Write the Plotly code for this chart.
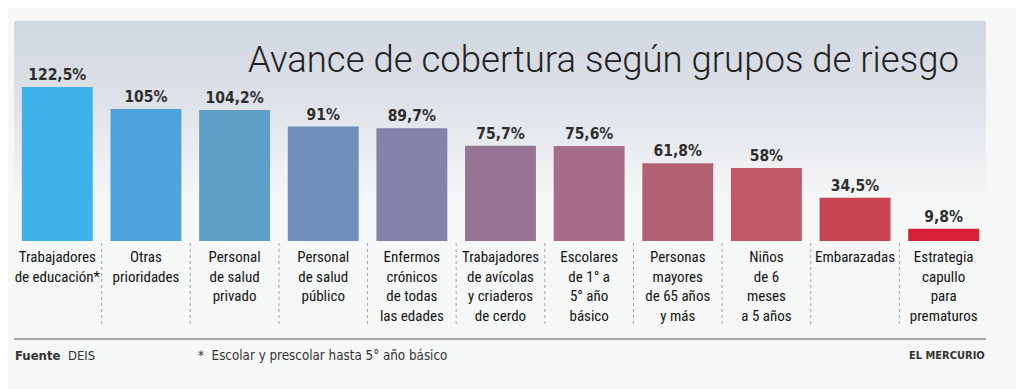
import plotly.graph_objects as go

categories = [
    "Trabajadores<br>de educación*",
    "Otras<br>prioridades",
    "Personal<br>de salud<br>privado",
    "Personal<br>de salud<br>público",
    "Enfermos<br>crónicos<br>de todas<br>las edades",
    "Trabajadores<br>de avícolas<br>y criaderos<br>de cerdo",
    "Escolares<br>de 1° a<br>5° año<br>básico",
    "Personas<br>mayores<br>de 65 años<br>y más",
    "Niños<br>de 6<br>meses<br>a 5 años",
    "Embarazadas",
    "Estrategia<br>capullo<br>para<br>prematuros",
]
values = [122.5, 105, 104.2, 91, 89.7, 75.7, 75.6, 61.8, 58, 34.5, 9.8]
bar_colors = ["#3db3ea", "#4ea4da", "#5e9fc8", "#7090bb", "#8282aa", "#967594",
              "#a76c87", "#b36276", "#c05868", "#c84556", "#d81f33"]
value_labels = [f"{v:g}".replace(".", ",") + "%" for v in values]

title = "Avance de cobertura según grupos de riesgo"
source = "<b>Fuente</b>  DEIS"
note = "*  Escolar y prescolar hasta 5° año básico"
brand = "<b>EL MERCURIO</b>"

OFF = 8  # page body margin
W, H = 1024 - OFF, 389 - OFF
L, R, T, B = 13 - OFF, 36, 21 - OFF, 148
ph = H - T - B
pw = W - L - R

def py(pix):
    return (H - B - (pix - OFF)) / ph

def px(pix):
    return (pix - OFF - L) / pw

fig = go.Figure()
x = list(range(len(categories)))
fig.add_trace(go.Bar(
    x=x, y=values, marker=dict(color=bar_colors, line=dict(width=0)),
    width=0.8, text=value_labels, textposition="outside", cliponaxis=False,
    textfont=dict(family="DejaVu Sans Condensed, DejaVu Sans", size=15.5, color="#2e2e2e", weight="bold"),
    hoverinfo="skip",
))

shapes = []
top_c = (210, 216, 225)
bg_c = (246, 247, 247)
y0p, y1p = 21, 200
n = 60
for i in range(n):
    t = i / (n - 1)
    f = t ** 1.3
    c = tuple(int(round(top_c[k] + (bg_c[k] - top_c[k]) * f)) for k in range(3))
    ya = y0p + (y1p - y0p) * i / n
    yb = y0p + (y1p - y0p) * (i + 1) / n + 0.6
    shapes.append(dict(type="rect", xref="paper", yref="paper", x0=px(14), x1=px(986),
                       y0=py(yb), y1=py(ya), fillcolor="rgb(%d,%d,%d)" % c,
                       line=dict(width=0), layer="below"))
for i in range(len(categories) - 1):
    shapes.append(dict(type="line", xref="x", yref="paper", x0=i + 0.5, x1=i + 0.5,
                       y0=py(243), y1=py(327), line=dict(color="#a5a5a5", width=1, dash="dot")))
shapes.append(dict(type="line", xref="paper", yref="paper", x0=px(14), x1=px(986),
                   y0=py(339), y1=py(339), line=dict(color="#a8a8a8", width=2)))

annotations = [
    dict(text=title, xref="paper", yref="paper", x=px(961), y=py(60),
         xanchor="right", yanchor="middle", showarrow=False,
         font=dict(family="Roboto, sans-serif", size=36.5, color="#222222", weight=300)),
    dict(text=source, xref="paper", yref="paper", x=px(13), y=py(355), xanchor="left", yanchor="middle",
         showarrow=False, font=dict(family="DejaVu Sans Condensed, DejaVu Sans", size=13, color="#333333")),
    dict(text=note, xref="paper", yref="paper", x=px(196), y=py(355), xanchor="left",
         yanchor="middle", showarrow=False,
         font=dict(family="DejaVu Sans Condensed, DejaVu Sans", size=13.3, color="#333333")),
    dict(text=brand, xref="paper", yref="paper", x=px(987), y=py(355), xanchor="right",
         yanchor="middle", showarrow=False,
         font=dict(family="DejaVu Sans Condensed, DejaVu Sans", size=11, color="#333333")),
]

fig.update_layout(
    width=W, height=H, margin=dict(l=L, r=R, t=T, b=B, pad=0),
    paper_bgcolor="#f6f7f7", plot_bgcolor="rgba(0,0,0,0)",
    showlegend=False, shapes=shapes, annotations=annotations, bargap=0.2,
    xaxis=dict(tickmode="array", tickvals=x, ticktext=categories, range=[-0.5, 10.5],
               showgrid=False, zeroline=False, showline=False, ticks="",
               ticklabelstandoff=5,
               tickfont=dict(family="Roboto Condensed, Roboto, sans-serif", size=15, color="#141414")),
    yaxis=dict(range=[0, 175], visible=False, fixedrange=True),
)
fig.write_html("out.html")
